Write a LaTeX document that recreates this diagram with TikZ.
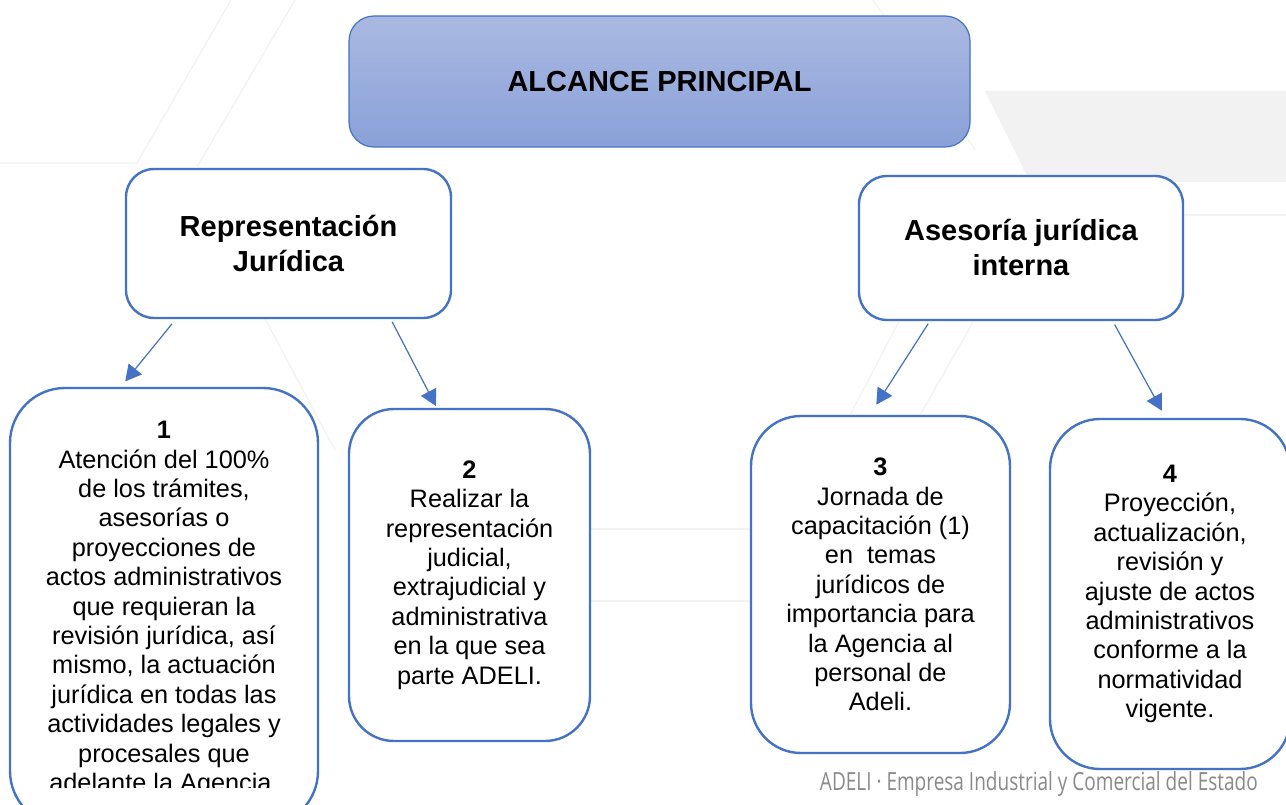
\documentclass[tikz,border=0pt]{standalone}
\usepackage{fontspec}
\setmainfont{Liberation Sans}
\newfontfamily\footfont{Open Sans}
\usepackage{xcolor}
\usepackage{graphicx}
\usetikzlibrary{arrows.meta, positioning}
\definecolor{adeliblue}{HTML}{4472C4}
\definecolor{titletop}{HTML}{AAB9E1}
\definecolor{titlebot}{HTML}{89A1D8}
\definecolor{wmgray}{HTML}{F3F2F2}
\definecolor{footgray}{HTML}{8A8A8A}

\begin{document}
\begin{tikzpicture}[x=1pt, y=-1pt,
        head/.style={rectangle, draw=adeliblue, line width=2.4pt, rounded corners=28pt, fill=white, align=center, inner sep=0pt, font=\fontsize{29}{35}\selectfont\bfseries},
        item/.style={rectangle, draw=adeliblue, line width=2.4pt, fill=white, align=center, inner sep=0pt, font=\fontsize{25.3}{29.4}\selectfont},
        arrow/.style={-{Triangle[length=16pt, width=17pt]}, draw=adeliblue, fill=adeliblue, line width=1.2pt}
    ]
        \useasboundingbox (0,0) rectangle (1286,805);
        \clip (0,0) rectangle (1286,805);
        \fill[white] (0,0) rectangle (1286,805);

        % watermark in the background
        \fill[wmgray] (985,91) -- (1286,91) -- (1286,182) -- (1030,182) -- cycle;
        \draw[wmgray, line width=1.2pt] (231,0) -- (137,163) -- (0,163);
        \draw[wmgray, line width=1.2pt] (295,0) -- (197,167);
        \draw[wmgray, line width=1.2pt] (255,300) -- (335,450);
        \draw[wmgray, line width=1.2pt] (873,0) -- (975,150);
        \draw[wmgray, line width=1.2pt] (905,310) -- (850,415);
        \draw[wmgray, line width=1.2pt] (980,310) -- (920,415);
        \draw[wmgray, line width=1.2pt] (1183,215) -- (1286,215);
        \draw[wmgray, line width=1.2pt] (590,529) -- (751,529);
        \draw[wmgray, line width=1.2pt] (590,601) -- (751,601);

        \node[rectangle, draw=adeliblue, line width=1.2pt, rounded corners=25pt, top color=titletop, bottom color=titlebot, minimum width=621pt, minimum height=131pt, font=\fontsize{29}{35}\selectfont\bfseries] (title) at (659.5,81.5) {ALCANCE PRINCIPAL};

        \node[head, minimum width=325pt, minimum height=149pt] (rep) at (288.5,243.5) {Representación\\Jurídica};
        \node[head, minimum width=324pt, minimum height=144pt] (ase) at (1021,248) {Asesoría jurídica\\interna};

        \node[item, rounded corners=55pt, minimum width=308pt, minimum height=438pt] (b1) at (164,607) {};
        \begin{scope}
            \clip (b1.north west) rectangle ([yshift=40pt]b1.south east);
            \node[align=center, inner sep=0pt, font=\fontsize{25.3}{29.4}\selectfont] (t1) at ([yshift=-2pt]b1.center) {\textbf{1}\\Atención del 100\%\\de los trámites,\\asesorías o\\proyecciones de\\actos administrativos\\que requieran la\\revisión jurídica, así\\mismo, la actuación\\jurídica en todas las\\actividades legales y\\procesales que\\adelante la Agencia.};
        \end{scope}
        \node[item, rounded corners=45pt, minimum width=241pt, minimum height=332pt] (b2) at (469.5,575) {\textbf{2}\\Realizar la\\representación\\judicial,\\extrajudicial y\\administrativa\\en la que sea\\parte ADELI.};
        \node[item, rounded corners=50pt, minimum width=259pt, minimum height=337pt] (b3) at (880.5,584.5) {\textbf{3}\\Jornada de\\capacitación (1)\\en\ \ temas\\jurídicos de\\importancia para\\la Agencia al\\personal de\\Adeli.};
        \node[item, rounded corners=50pt, minimum width=240pt, minimum height=350pt] (b4) at (1170,594) {\textbf{4}\\Proyección,\\actualización,\\revisión y\\ajuste de actos\\administrativos\\conforme a la\\normatividad\\vigente.};

        \draw[arrow, shorten <=6pt, shorten >=7pt] ([xshift=51pt]rep.south west) -- ([xshift=112pt]b1.north west);
        \draw[arrow, shorten <=3pt, shorten >=2pt] ([xshift=266pt]rep.south west) -- ([xshift=89pt]b2.north west);
        \draw[arrow, shorten <=3pt, shorten >=12pt] ([xshift=72pt]ase.south west) -- ([xshift=120pt]b3.north west);
        \draw[arrow, shorten <=4pt, shorten >=8pt] ([xshift=255pt]ase.south west) -- ([xshift=117pt]b4.north west);

        \node[anchor=east, inner sep=0pt, text=footgray, font=\footfont\fontsize{25}{28}\selectfont] (foot) at (1258,784) {\scalebox{0.76}[1]{ADELI · Empresa Industrial y Comercial del Estado}};
    \end{tikzpicture}
\end{document}
